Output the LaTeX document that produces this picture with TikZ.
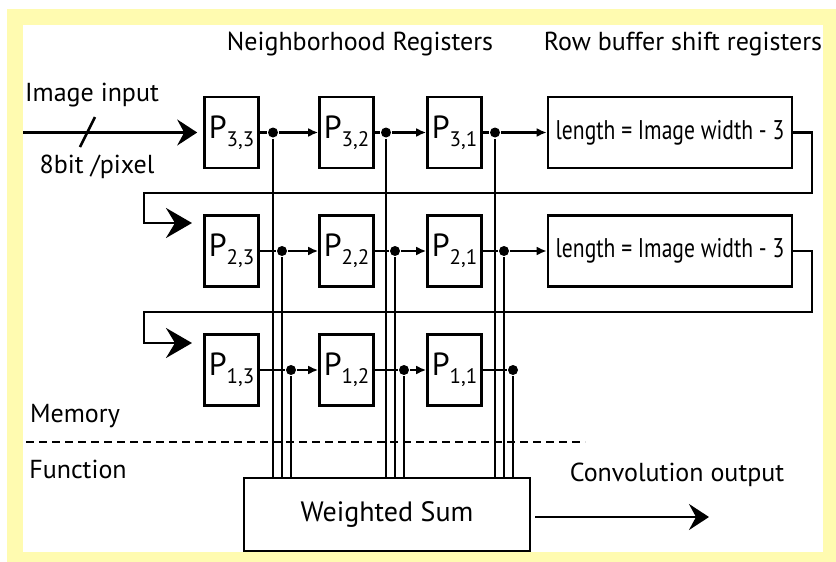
\documentclass[tikz,border=0pt]{standalone}
\usepackage{fontspec}
\setmainfont{PT Sans}
\newfontfamily\narrowfont[FakeStretch=0.8]{PT Sans}
\usepackage{tikz}
\usetikzlibrary{arrows.meta}

\definecolor{frameyellow}{RGB}{255,251,176}
\newcommand{\preg}[2]{P\raisebox{-0.5ex}{\fontsize{10.5}{11}\selectfont #1,#2}}

\begin{document}
\begin{tikzpicture}[
  x=0.5pt, y=-0.5pt,
  font=\fontsize{13}{15}\selectfont,
  line width=1.3pt,
  reg/.style={
    draw,
    minimum width=27pt,
    minimum height=35.5pt,
    inner sep=0pt,
    font=\fontsize{16}{18}\selectfont
  },
  rowbuf/.style={
    draw,
    minimum width=122pt,
    minimum height=35.5pt,
    inner sep=0pt,
    font=\narrowfont\fontsize{13.5}{15}\selectfont
  },
  label/.style={inner sep=0pt, anchor=base},
  arrow/.style={-{Latex[length=5pt,width=4.5pt]}},
  bigarrow/.style={-{Stealth[length=10pt,width=13pt,inset=3.5pt]}},
  tap/.style={circle, fill, inner sep=0pt, minimum size=5pt}
]
  \fill[white] (0,0) rectangle (836,562);
  \fill[frameyellow] (7,9) rectangle (836,562);
  \fill[white] (23,25) rectangle (823,552);

  \node[label] (nbhd) at (360,50) {Neighborhood Registers};
  \node[label] (rowlbl) at (683,50) {Row buffer shift registers};
  \node[label] (imgin) at (92,101) {Image input};
  \node[label] (bits) at (97,173) {8bit /pixel};
  \node[label] (mem) at (75,422) {Memory};
  \node[label] (func) at (78,478) {Function};
  \node[label] (convout) at (677,481) {Convolution output};

  \node[reg] (p33) at (231.5,132.5) {\preg{3}{3}};
  \node[reg] (p32) at (346.5,132.5) {\preg{3}{2}};
  \node[reg] (p31) at (454.5,132.5) {\preg{3}{1}};
  \node[rowbuf] (buf3) at (670,132.5) {length = Image width - 3};

  \node[reg] (p23) at (231.5,251) {\preg{2}{3}};
  \node[reg] (p22) at (346.5,251) {\preg{2}{2}};
  \node[reg] (p21) at (454.5,251) {\preg{2}{1}};
  \node[rowbuf] (buf2) at (670,251) {length = Image width - 3};

  \node[reg] (p13) at (231.5,370) {\preg{1}{3}};
  \node[reg] (p12) at (346.5,370) {\preg{1}{2}};
  \node[reg] (p11) at (454.5,370) {\preg{1}{1}};

  \node[draw, minimum width=143pt, minimum height=36.5pt, inner sep=0pt,
        font=\fontsize{14}{16}\selectfont] (wsum) at (387,514.5) {Weighted Sum};

  \coordinate (src) at (23,132.5);
  \coordinate (slashA) at (80,147);
  \coordinate (slashB) at (95,117);
  \coordinate (ret3) at (812,193);
  \coordinate (turn2) at (144,223);
  \coordinate (in2) at (192,223);
  \coordinate (ret2) at (812,312);
  \coordinate (turn1) at (144,343);
  \coordinate (in1) at (192,343);
  \coordinate (out) at (709,517);
  \coordinate (sepL) at (26,442);
  \coordinate (sepR) at (585,442);

  \node[tap] (d33) at (273,132.5) {};
  \node[tap] (d32) at (386,132.5) {};
  \node[tap] (d31) at (495,132.5) {};
  \node[tap] (d23) at (282,251) {};
  \node[tap] (d22) at (395,251) {};
  \node[tap] (d21) at (504,251) {};
  \node[tap] (d13) at (291,370) {};
  \node[tap] (d12) at (404,370) {};
  \node[tap] (d11) at (513,370) {};

  \draw[bigarrow, shorten >=3pt] (src) -- (p33.west);
  \draw (slashA) -- (slashB);

  \draw (p33.east) -- (d33);
  \draw[arrow] (d33) -- (p32.west);
  \draw (p32.east) -- (d32);
  \draw[arrow] (d32) -- (p31.west);
  \draw (p31.east) -- (d31);
  \draw[arrow] (d31) -- (buf3.west);

  \draw (p23.east) -- (d23);
  \draw[arrow] (d23) -- (p22.west);
  \draw (p22.east) -- (d22);
  \draw[arrow] (d22) -- (p21.west);
  \draw (p21.east) -- (d21);
  \draw[arrow] (d21) -- (buf2.west);

  \draw (p13.east) -- (d13);
  \draw[arrow] (d13) -- (p12.west);
  \draw (p12.east) -- (d12);
  \draw[arrow] (d12) -- (p11.west);
  \draw (p11.east) -- (d11);

  \draw[-{Stealth[length=13pt,width=15pt,inset=4.5pt]}]
    (buf3.east) -| (ret3) -| (turn2) -- (in2);
  \draw[-{Stealth[length=13pt,width=15pt,inset=4.5pt]}]
    (buf2.east) -| (ret2) -| (turn1) -- (in1);

  \draw (d33) -- (d33 |- wsum.north);
  \draw (d23) -- (d23 |- wsum.north);
  \draw (d13) -- (d13 |- wsum.north);
  \draw (d32) -- (d32 |- wsum.north);
  \draw (d22) -- (d22 |- wsum.north);
  \draw (d12) -- (d12 |- wsum.north);
  \draw (d31) -- (d31 |- wsum.north);
  \draw (d21) -- (d21 |- wsum.north);
  \draw (d11) -- (d11 |- wsum.north);

  \draw[line width=0.9pt, dash pattern=on 4pt off 2.5pt] (sepL) -- (sepR);

  \draw[bigarrow, shorten <=2pt] (out -| wsum.east) -- (out);
\end{tikzpicture}
\end{document}
